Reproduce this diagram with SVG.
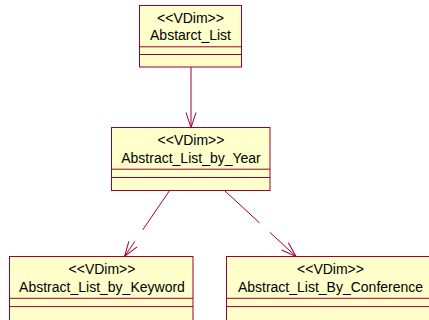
<svg xmlns="http://www.w3.org/2000/svg" width="429" height="320" viewBox="0 0 429 320">
<style>
.box{fill:#FFFFCC;stroke:#990033;stroke-width:1}
.sep{stroke:#990033;stroke-width:1}
text{font-family:"Liberation Sans",Arial,sans-serif;font-size:14px;fill:#000;text-anchor:middle}
.edge{fill:none;stroke:#990033;stroke-width:1}
.dash{stroke-dasharray:47 14}
</style>
<defs>
<marker id="open" markerUnits="userSpaceOnUse" markerWidth="20" markerHeight="14" viewBox="-16 -7 18 14" refX="0" refY="0" orient="auto" overflow="visible">
<path d="M-15,-5 L0,0 L-15,5" fill="none" stroke="#990033" stroke-width="1"/>
</marker>
</defs>
<rect width="429" height="320" fill="#FFFFFF"/>
<g id="connectors">
<line class="edge" x1="191" y1="67" x2="191" y2="127.5" marker-end="url(#open)"/>
<line class="edge dash" x1="169.3" y1="191" x2="124.5" y2="256.5" marker-end="url(#open)"/>
<line class="edge dash" x1="225" y1="191" x2="296" y2="256.5" marker-end="url(#open)"/>
</g>
<g id="Abstarct_List">
<rect class="box" x="139.5" y="5.5" width="102" height="61.5"/>
<line class="sep" x1="139.5" y1="46.8" x2="241.5" y2="46.8"/>
<line class="sep" x1="139.5" y1="54.5" x2="241.5" y2="54.5"/>
<text x="190.5" y="22.5">&lt;&lt;VDim&gt;&gt;</text>
<text x="190.5" y="39.5">Abstarct_List</text>
</g>
<g id="Abstract_List_by_Year">
<rect class="box" x="111.5" y="127.5" width="158.5" height="63"/>
<line class="sep" x1="111.5" y1="169.2" x2="270" y2="169.2"/>
<line class="sep" x1="111.5" y1="177.5" x2="270" y2="177.5"/>
<text x="191" y="145">&lt;&lt;VDim&gt;&gt;</text>
<text x="191" y="162.7">Abstract_List_by_Year</text>
</g>
<g id="Abstract_List_by_Keyword">
<rect class="box" x="9.5" y="256.5" width="183.5" height="70"/>
<line class="sep" x1="9.5" y1="298.3" x2="193" y2="298.3"/>
<line class="sep" x1="9.5" y1="306.6" x2="193" y2="306.6"/>
<text x="102" y="274">&lt;&lt;VDim&gt;&gt;</text>
<text x="102" y="291.7">Abstract_List_by_Keyword</text>
</g>
<g id="Abstract_List_By_Conference">
<rect class="box" x="226.5" y="256.5" width="208" height="70"/>
<line class="sep" x1="226.5" y1="298.3" x2="434.5" y2="298.3"/>
<line class="sep" x1="226.5" y1="306.6" x2="434.5" y2="306.6"/>
<text x="330.5" y="274">&lt;&lt;VDim&gt;&gt;</text>
<text x="330.5" y="291.7">Abstract_List_By_Conference</text>
</g>
</svg>
